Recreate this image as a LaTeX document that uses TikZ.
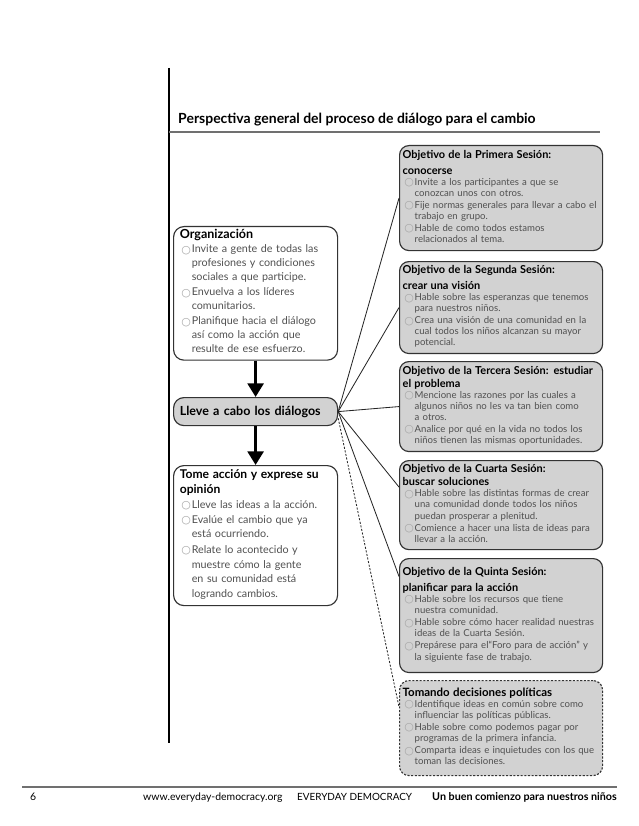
\documentclass[tikz,border=0pt]{standalone}
\usepackage{fontspec}
\setmainfont{Lato}
\newfontfamily\symf{DejaVu Sans}
\usepackage{xcolor}
\usetikzlibrary{arrows.meta, positioning, calc}

\definecolor{boxgray}{HTML}{D2D2D2}
\definecolor{itemgray}{HTML}{505050}
\definecolor{rulegray}{HTML}{707070}
\newcommand{\blt}{\makebox[11.5pt][l]{\hspace{1.5pt}\raisebox{-0.3pt}{\textcolor{gray!70}{\symf\fontsize{10.5}{10}\selectfont ○}}}}
\newcommand{\itm}[1]{\par\noindent\blt\begin{tabular}[t]{@{}l@{}}#1\end{tabular}}
\newcommand{\hd}[1]{{\color{black}\bfseries\fontsize{10.5}{15}\selectfont #1\par}}

\begin{document}
\begin{tikzpicture}[
    x=0.959pt, y=-0.959pt,
    goal/.style={draw=black!80, line width=1.1pt, rounded corners=9pt, fill=boxgray,
      anchor=north west, minimum width=194.7pt, text width=188.7pt, inner sep=3pt,
      align=left, font=\fontsize{9.2}{10.6}\selectfont\color{itemgray}},
    stage/.style={draw=black!80, line width=1.1pt, rounded corners=10pt, fill=white,
      anchor=north west, minimum width=157.3pt, text width=145.3pt, inner xsep=6pt,
      inner ysep=3pt, align=left, font=\fontsize{10.3}{13.4}\selectfont\color{itemgray}},
    link/.style={draw=black!85, line width=0.8pt},
    bigarrow/.style={line width=3.6pt, -{Triangle[width=15pt,length=13pt]}}
]
\useasboundingbox (0,0) rectangle (638,826);
% page rules
\draw[line width=1pt] (169,68) -- (169,743);
\draw[rulegray, line width=1pt] (169,132) -- (600,132);
\node[anchor=base west, inner sep=0pt, font=\bfseries\fontsize{13.4}{15}\selectfont] (title) at (178,124)
  {Perspectiva general del proceso de diálogo para el cambio};

% left column
\node[stage, minimum height=126.6pt] (org) at (173,226) {%
  {\color{black}\bfseries\fontsize{12}{14.5}\selectfont Organización\par}
  \itm{Invite a gente de todas las\\profesiones y condiciones\\sociales a que participe.}
  \itm{Envuelva a los líderes\\comunitarios.}
  \itm{Planifique hacia el diálogo\\así como la acción que\\resulte de ese esfuerzo.}};
\node[stage, fill=boxgray, minimum height=26.9pt, font=\bfseries\fontsize{12}{14}\selectfont]
  (lleve) at (173,397) {Lleve a cabo los diálogos};
\node[stage, minimum height=134.3pt, font=\fontsize{10.3}{14}\selectfont\color{itemgray}] (tome) at (173,465) {%
  {\color{black}\bfseries\fontsize{11.6}{14.8}\selectfont Tome acción y exprese su\\opinión\par}
  \itm{Lleve las ideas a la acción.}
  \itm{Evalúe el cambio que ya\\está ocurriendo.}
  \itm{Relate lo acontecido y\\muestre cómo la gente\\en su comunidad está\\logrando cambios.}};
\draw[bigarrow] (org.south) -- (lleve.north);
\draw[bigarrow] (lleve.south) -- (tome.north);

% session boxes
\node[goal, minimum height=100.7pt] (b1) at (399,145) {%
  \hd{Objetivo de la Primera Sesión:\\conocerse}
  \itm{Invite a los participantes a que se\\conozcan unos con otros.}
  \itm{Fije normas generales para llevar a cabo el\\trabajo en grupo.}
  \itm{Hable de como todos estamos\\relacionados al tema.}};
\node[goal, minimum height=88.2pt] (b2) at (399,261) {%
  \hd{Objetivo de la Segunda Sesión:\\crear una visión}
  \itm{Hable sobre las esperanzas que tenemos\\para nuestros niños.}
  \itm{Crea una visión de una comunidad en la\\cual todos los niños alcanzan su mayor\\potencial.}};
\node[goal, minimum height=86.3pt] (b3) at (399,361) {%
  {\color{black}\bfseries\fontsize{10.5}{12.5}\selectfont Objetivo de la Tercera Sesión: estudiar\\el problema\par}
  \itm{Mencione las razones por las cuales a\\algunos niños no les va tan bien como\\a otros.}
  \itm{Analice por qué en la vida no todos los\\niños tienen las mismas oportunidades.}};
\node[goal, minimum height=85.4pt] (b4) at (399,460) {%
  {\color{black}\bfseries\fontsize{10.5}{12.5}\selectfont Objetivo de la Cuarta Sesión:\\buscar soluciones\par}
  \itm{Hable sobre las distintas formas de crear\\una comunidad donde todos los niños\\puedan prosperar a plenitud.}
  \itm{Comience a hacer una lista de ideas para\\llevar a la acción.}};
\node[goal, minimum height=109.3pt] (b5) at (399,558) {%
  \hd{Objetivo de la Quinta Sesión:\\planificar para la acción}
  \itm{Hable sobre los recursos que tiene\\nuestra comunidad.}
  \itm{Hable sobre cómo hacer realidad nuestras\\ideas de la Cuarta Sesión.}
  \itm{Prepárese para el“Foro para de acción” y\\la siguiente fase de trabajo.}};
\node[goal, minimum height=91.1pt, dash pattern=on 2pt off 1.5pt] (b6) at (399,680) {%
  {\color{black}\bfseries\fontsize{11}{13.5}\selectfont Tomando decisiones políticas\par}
  \itm{Identifique ideas en común sobre como\\influenciar las políticas públicas.}
  \itm{Hable sobre como podemos pagar por\\programas de la primera infancia.}
  \itm{Comparta ideas e inquietudes con los que\\toman las decisiones.}};

% connectors
\coordinate (b4in) at ($(b4.north west)!0.3!(b4.south west)$);
\coordinate (b5in) at ($(b5.north west)!0.16!(b5.south west)$);
\coordinate (b6in) at ($(b6.north west)!0.28!(b6.south west)$);
\coordinate (lleveout) at ($(lleve.east)!0.45!(lleve.south east)$);
\draw[link] (lleve.east) -- (b1.west);
\draw[link] (lleve.east) -- (b2.west);
\draw[link] (lleve.east) -- (b3.west);
\draw[link] (lleve.east) -- (b4in);
\draw[link] (lleve.east) -- (b5in);
\draw[link, dash pattern=on 2pt off 1.5pt] (lleveout) -- (b6in);

% footer
\draw[rulegray, line width=1.2pt] (22,787) -- (617,787);
\node[anchor=base west, inner sep=0pt, font=\fontsize{10}{12}\selectfont] (pageno) at (30,800) {6};
\node[anchor=base west, inner sep=0pt, font=\fontsize{10}{12}\selectfont] (url) at (143,800) {www.everyday-democracy.org};
\node[anchor=base west, inner sep=0pt, font=\fontsize{9.5}{12}\selectfont] (org name) at (297,800) {EVERYDAY DEMOCRACY};
\node[anchor=base east, inner sep=0pt, font=\bfseries\fontsize{10.3}{12}\selectfont] (series) at (617,800) {Un buen comienzo para nuestros niños};
\end{tikzpicture}
\end{document}
